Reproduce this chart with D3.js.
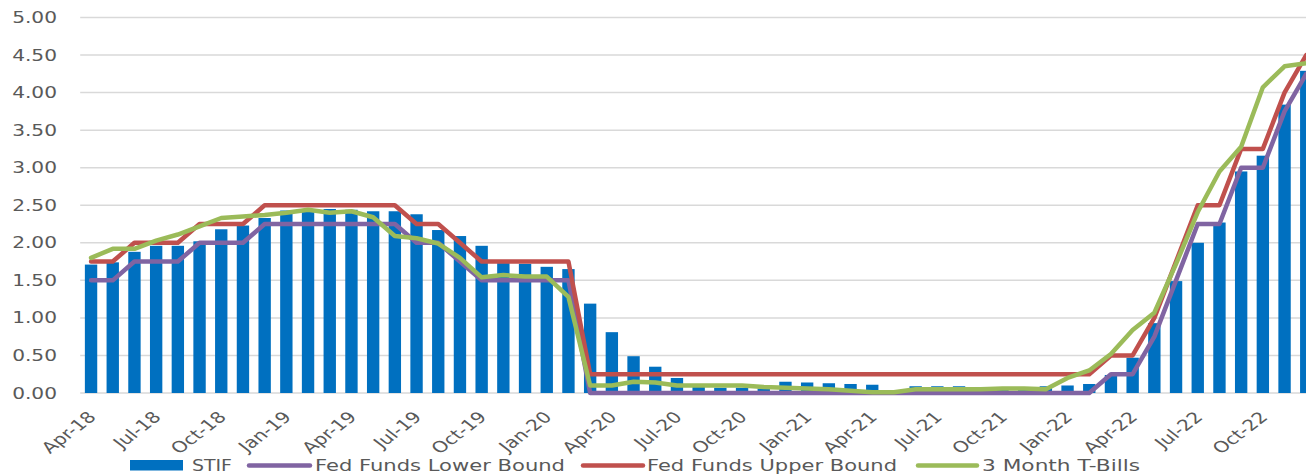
<!DOCTYPE html>
<html>
<head>
<meta charset="utf-8">
<script src="https://cdn.jsdelivr.net/npm/d3@7"></script>
<style>
  html, body { margin: 0; padding: 0; background: #fff; overflow: hidden; }
  svg { display: block; }
  text { font-family: "DejaVu Sans", Verdana, sans-serif; fill: #595959; }
</style>
</head>
<body>
<svg id="chart" width="1306" height="474"></svg>
<script>
const categories = [
  "Apr-18","May-18","Jun-18","Jul-18","Aug-18","Sep-18","Oct-18","Nov-18","Dec-18",
  "Jan-19","Feb-19","Mar-19","Apr-19","May-19","Jun-19","Jul-19","Aug-19","Sep-19","Oct-19","Nov-19","Dec-19",
  "Jan-20","Feb-20","Mar-20","Apr-20","May-20","Jun-20","Jul-20","Aug-20","Sep-20","Oct-20","Nov-20","Dec-20",
  "Jan-21","Feb-21","Mar-21","Apr-21","May-21","Jun-21","Jul-21","Aug-21","Sep-21","Oct-21","Nov-21","Dec-21",
  "Jan-22","Feb-22","Mar-22","Apr-22","May-22","Jun-22","Jul-22","Aug-22","Sep-22","Oct-22","Nov-22","Dec-22"
];
const xTickLabels = ["Apr-18","Jul-18","Oct-18","Jan-19","Apr-19","Jul-19","Oct-19","Jan-20","Apr-20","Jul-20",
  "Oct-20","Jan-21","Apr-21","Jul-21","Oct-21","Jan-22","Apr-22","Jul-22","Oct-22"];
const yTicks = [0, 0.5, 1, 1.5, 2, 2.5, 3, 3.5, 4, 4.5, 5];

const stif = [
  1.71,1.74,1.88,1.96,1.96,2.02,2.18,2.23,2.33,
  2.43,2.45,2.45,2.44,2.42,2.42,2.38,2.17,2.09,1.96,1.73,1.72,
  1.68,1.65,1.19,0.81,0.49,0.35,0.20,0.09,0.07,0.07,0.06,0.15,
  0.14,0.13,0.12,0.11,0.03,0.09,0.09,0.09,0.08,0.08,0.08,0.09,
  0.10,0.12,0.24,0.47,0.93,1.49,2.00,2.27,2.95,3.16,3.84,4.29
];
const fedLower = [
  1.50,1.50,1.75,1.75,1.75,2.00,2.00,2.00,2.25,
  2.25,2.25,2.25,2.25,2.25,2.25,2.00,2.00,1.75,1.50,1.50,1.50,
  1.50,1.50,0.00,0.00,0.00,0.00,0.00,0.00,0.00,0.00,0.00,0.00,
  0.00,0.00,0.00,0.00,0.00,0.00,0.00,0.00,0.00,0.00,0.00,0.00,
  0.00,0.00,0.25,0.25,0.75,1.50,2.25,2.25,3.00,3.00,3.75,4.25
];
const fedUpper = [
  1.75,1.75,2.00,2.00,2.00,2.25,2.25,2.25,2.50,
  2.50,2.50,2.50,2.50,2.50,2.50,2.25,2.25,2.00,1.75,1.75,1.75,
  1.75,1.75,0.25,0.25,0.25,0.25,0.25,0.25,0.25,0.25,0.25,0.25,
  0.25,0.25,0.25,0.25,0.25,0.25,0.25,0.25,0.25,0.25,0.25,0.25,
  0.25,0.25,0.50,0.50,1.00,1.75,2.50,2.50,3.25,3.25,4.00,4.50
];
const tBills = [
  1.80,1.92,1.92,2.03,2.11,2.22,2.33,2.35,2.37,
  2.40,2.44,2.40,2.42,2.34,2.09,2.06,1.99,1.80,1.54,1.57,1.55,
  1.55,1.28,0.10,0.10,0.15,0.14,0.10,0.10,0.10,0.10,0.08,0.07,
  0.06,0.05,0.03,0.01,0.01,0.05,0.05,0.05,0.05,0.06,0.06,0.05,
  0.20,0.30,0.52,0.84,1.07,1.72,2.41,2.95,3.28,4.07,4.35,4.39
];
const seriesNames = ["STIF", "Fed Funds Lower Bound", "Fed Funds Upper Bound", "3 Month T-Bills"];
const colors = ["#0070C0", "#8064A2", "#C0504D", "#9BBB59"];

const svg = d3.select("#chart");
const SX = 1.3; // horizontal text stretch
const left = 80.2, step = 21.7;
const plotRight = left + step * categories.length;
const yTop = 17.5, yBottom = 393;

const x = d3.scaleBand().domain(categories).range([left, plotRight])
  .paddingInner(0.43).paddingOuter(0.215);
const y = d3.scaleLinear().domain([0, 5]).range([yBottom, yTop]);
const cx = d => x(d) + x.bandwidth() / 2;

// gridlines
svg.append("g").selectAll("line").data(yTicks).join("line")
  .attr("x1", left).attr("x2", plotRight)
  .attr("y1", d => y(d)).attr("y2", d => y(d))
  .attr("stroke", "#D9D9D9").attr("stroke-width", 1.5);

// y labels
svg.append("g").selectAll("text").data(yTicks).join("text")
  .attr("transform", d => `translate(57,${y(d)}) scale(${SX},1)`)
  .attr("text-anchor", "end").attr("dy", "0.36em")
  .style("font-size", "15.5px")
  .text(d => d3.format(".2f")(d));

// bars
svg.append("g").selectAll("rect").data(categories).join("rect")
  .attr("x", d => x(d)).attr("width", x.bandwidth())
  .attr("y", (d, i) => y(stif[i])).attr("height", (d, i) => y(0) - y(stif[i]))
  .attr("fill", colors[0]);

// lines
const lineGen = d3.line().x((v, i) => cx(categories[i])).y(v => y(v));
[fedLower, fedUpper, tBills].forEach((s, k) => {
  svg.append("path").datum(s).attr("d", lineGen)
    .attr("fill", "none").attr("stroke", colors[k + 1])
    .attr("stroke-width", 4.5).attr("stroke-linejoin", "round").attr("stroke-linecap", "round");
});

// x labels
svg.append("g").selectAll("text").data(xTickLabels).join("text")
  .attr("transform", d => `translate(${cx(d) + 6},418) scale(${SX},1) rotate(-45)`)
  .attr("text-anchor", "end")
  .style("font-size", "15.5px")
  .text(d => d);

// legend
const legend = [
  { type: "rect", x0: 130, x1: 183, tx: 192, tl: 40 },
  { type: "line", x0: 249, x1: 310, tx: 315, tl: 250 },
  { type: "line", x0: 583, x1: 643, tx: 647, tl: 250 },
  { type: "line", x0: 918, x1: 977, tx: 982, tl: 158 }
];
const lg = svg.append("g");
legend.forEach((L, i) => {
  if (L.type === "rect") {
    lg.append("rect").attr("x", L.x0).attr("y", 460).attr("width", L.x1 - L.x0).attr("height", 10.5)
      .attr("fill", colors[i]);
  } else {
    lg.append("line").attr("x1", L.x0).attr("x2", L.x1).attr("y1", 465.5).attr("y2", 465.5)
      .attr("stroke", colors[i]).attr("stroke-width", 4.5).attr("stroke-linecap", "round");
  }
  lg.append("text").attr("x", L.tx).attr("y", 471)
    .attr("textLength", L.tl).attr("lengthAdjust", "spacingAndGlyphs")
    .style("font-size", "16.5px").text(seriesNames[i]);
});
</script>
</body>
</html>
